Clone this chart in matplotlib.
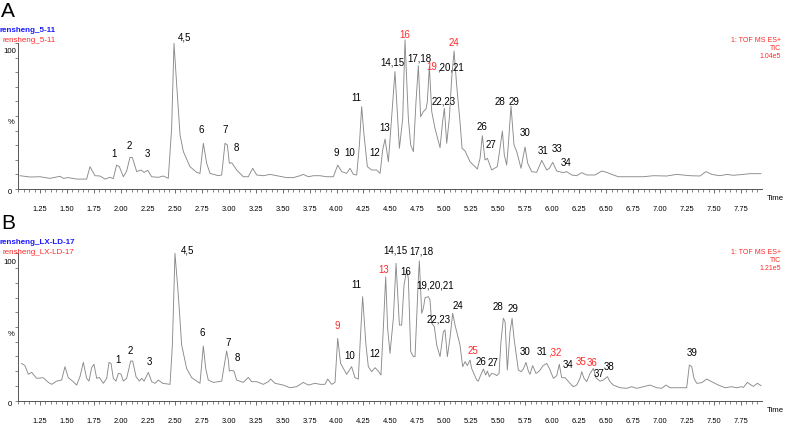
import matplotlib
matplotlib.use("Agg")
import matplotlib.pyplot as plt
from matplotlib.ticker import MultipleLocator

plt.rcParams['font.family'] = ['Liberation Sans', 'DejaVu Sans']

# ---- chromatogram A (rensheng_5-11), time in min, intensity in %
time_a = [1.065, 1.158, 1.250, 1.343, 1.436, 1.467, 1.513, 1.590, 1.683, 1.714, 1.760, 1.807,
          1.853, 1.900, 1.930, 1.961, 1.986, 2.023, 2.054, 2.085, 2.107, 2.147, 2.187, 2.215,
          2.249, 2.286, 2.348, 2.394, 2.440, 2.471, 2.493, 2.518, 2.549, 2.580, 2.641, 2.703,
          2.734, 2.765, 2.796, 2.827, 2.904, 2.935, 2.966, 2.988, 3.006, 3.028, 3.074, 3.136,
          3.182, 3.223, 3.260, 3.321, 3.383, 3.445, 3.538, 3.600, 3.661, 3.692, 3.739, 3.785,
          3.847, 3.909, 3.971, 4.011, 4.048, 4.094, 4.125, 4.156, 4.187, 4.212, 4.233, 4.255,
          4.286, 4.326, 4.372, 4.404, 4.428, 4.450, 4.481, 4.542, 4.583, 4.614, 4.635, 4.666,
          4.688, 4.713, 4.737, 4.759, 4.780, 4.805, 4.830, 4.842, 4.861, 4.883, 4.913, 4.960,
          4.984, 5.000, 5.022, 5.046, 5.068, 5.090, 5.114, 5.145, 5.164, 5.192, 5.238, 5.306,
          5.331, 5.352, 5.377, 5.399, 5.439, 5.491, 5.516, 5.538, 5.556, 5.578, 5.593, 5.618,
          5.646, 5.671, 5.711, 5.748, 5.773, 5.810, 5.856, 5.903, 5.949, 5.974, 6.005, 6.042,
          6.103, 6.134, 6.181, 6.227, 6.273, 6.320, 6.397, 6.459, 6.505, 6.552, 6.613, 6.722,
          6.845, 6.938, 7.062, 7.154, 7.278, 7.371, 7.426, 7.479, 7.556, 7.618, 7.680, 7.773,
          7.835, 7.936]
int_a = [9.1, 8.2, 8.4, 7.3, 8.7, 7.3, 7.8, 6.8, 6.8, 15.3, 9.1, 8.9,
         6.8, 8.0, 7.1, 16.4, 15.3, 8.4, 12.3, 21.7, 21.5, 11.9, 13.0, 11.4,
         12.8, 8.4, 8.0, 8.9, 7.3, 41.6, 99.8, 71.2, 37.0, 25.6, 15.3, 11.4,
         10.7, 31.3, 17.6, 10.7, 9.1, 9.6, 31.3, 30.1, 17.6, 18.0, 13.0, 8.4,
         8.4, 14.2, 9.6, 9.1, 10.0, 9.1, 7.8, 7.8, 9.1, 10.0, 8.4, 9.1,
         9.1, 8.4, 8.4, 16.4, 11.9, 10.7, 14.2, 10.0, 9.6, 30.1, 56.4, 37.0,
         15.3, 13.0, 13.0, 10.7, 26.7, 34.2, 18.7, 80.4, 27.9, 48.4, 102.1, 48.4,
         30.1, 25.6, 59.8, 84.5, 49.5, 53.0, 54.8, 59.8, 83.8, 53.0, 41.6, 28.3,
         46.1, 55.3, 31.3, 48.4, 75.8, 94.5, 71.2, 46.1, 27.9, 26.0, 18.7, 13.7,
         21.0, 36.5, 19.9, 21.0, 13.0, 15.3, 27.9, 39.7, 23.3, 16.4, 30.1, 56.8,
         30.1, 25.6, 14.2, 28.8, 17.6, 11.9, 11.4, 19.6, 13.0, 14.2, 18.3, 12.3,
         11.2, 11.9, 9.6, 9.1, 11.2, 9.6, 9.6, 12.3, 11.4, 10.0, 8.4, 8.4,
         8.4, 9.1, 8.9, 10.0, 9.1, 8.9, 11.9, 10.0, 9.1, 10.0, 9.4, 10.0,
         10.5, 10.5]

# ---- chromatogram B (rensheng_LX-LD-17)
time_b = [1.080, 1.111, 1.142, 1.173, 1.219, 1.281, 1.328, 1.359, 1.405, 1.451, 1.482, 1.513,
          1.559, 1.590, 1.621, 1.652, 1.683, 1.705, 1.729, 1.751, 1.776, 1.801, 1.838, 1.869,
          1.890, 1.909, 1.930, 1.955, 1.977, 2.001, 2.023, 2.054, 2.091, 2.110, 2.141, 2.172,
          2.193, 2.215, 2.255, 2.286, 2.317, 2.348, 2.388, 2.456, 2.478, 2.502, 2.533, 2.564,
          2.610, 2.657, 2.703, 2.734, 2.765, 2.787, 2.811, 2.858, 2.904, 2.935, 2.981, 2.997,
          3.006, 3.028, 3.049, 3.074, 3.136, 3.182, 3.213, 3.260, 3.321, 3.368, 3.389, 3.430,
          3.507, 3.569, 3.630, 3.692, 3.739, 3.801, 3.847, 3.893, 3.918, 3.955, 3.986, 4.011,
          4.038, 4.094, 4.140, 4.171, 4.202, 4.218, 4.242, 4.273, 4.295, 4.326, 4.357, 4.388,
          4.412, 4.434, 4.456, 4.474, 4.496, 4.527, 4.552, 4.583, 4.604, 4.626, 4.651, 4.666,
          4.688, 4.713, 4.728, 4.759, 4.768, 4.790, 4.805, 4.821, 4.852, 4.867, 4.883, 4.907,
          4.929, 4.960, 4.991, 5.006, 5.028, 5.052, 5.077, 5.099, 5.130, 5.145, 5.170, 5.192,
          5.213, 5.238, 5.253, 5.300, 5.315, 5.331, 5.362, 5.383, 5.399, 5.417, 5.439, 5.470,
          5.485, 5.507, 5.525, 5.547, 5.563, 5.584, 5.609, 5.628, 5.646, 5.665, 5.686, 5.711,
          5.733, 5.757, 5.779, 5.794, 5.819, 5.850, 5.881, 5.912, 5.949, 5.974, 6.011, 6.042,
          6.066, 6.088, 6.119, 6.165, 6.196, 6.227, 6.258, 6.274, 6.295, 6.320, 6.351, 6.382,
          6.406, 6.443, 6.474, 6.512, 6.536, 6.567, 6.629, 6.691, 6.737, 6.784, 6.845, 6.907,
          6.969, 7.015, 7.056, 7.093, 7.185, 7.247, 7.272, 7.294, 7.315, 7.340, 7.386, 7.433,
          7.479, 7.541, 7.603, 7.664, 7.711, 7.757, 7.773, 7.810, 7.835, 7.865, 7.903, 7.937]
int_b = [25.3, 23.8, 17.9, 19.2, 15.2, 15.6, 12.4, 11.1, 13.3, 14.0, 23.1, 15.6,
         12.9, 10.6, 16.3, 26.0, 15.2, 13.3, 22.4, 24.7, 15.2, 15.8, 11.8, 15.2,
         26.0, 25.3, 15.2, 13.3, 18.5, 18.1, 13.3, 15.2, 26.9, 26.9, 16.3, 13.3,
         15.2, 13.3, 19.2, 12.9, 11.8, 14.0, 11.8, 11.1, 37.8, 100.0, 71.7, 37.8,
         21.9, 15.6, 13.3, 11.8, 37.1, 21.9, 14.0, 12.4, 12.9, 13.3, 33.7, 27.6,
         20.1, 20.6, 20.1, 14.0, 12.4, 15.8, 12.9, 12.9, 11.1, 12.9, 14.7, 11.8,
         10.6, 8.8, 9.5, 12.4, 10.6, 11.8, 11.1, 11.1, 14.7, 11.1, 12.4, 42.3,
         25.3, 17.9, 23.1, 15.6, 14.7, 37.8, 70.6, 37.8, 23.1, 19.7, 22.4, 20.1,
         17.4, 49.1, 84.1, 49.1, 32.1, 55.9, 93.2, 51.3, 51.3, 78.5, 88.7, 83.0,
         33.3, 29.9, 29.9, 83.0, 94.8, 59.3, 62.7, 69.9, 70.6, 68.3, 52.5, 50.2,
         37.8, 29.9, 46.8, 48.0, 29.9, 42.3, 59.3, 51.3, 42.3, 37.8, 23.1, 26.5,
         23.8, 27.6, 21.9, 14.0, 13.3, 16.3, 21.5, 17.4, 20.1, 16.3, 18.5, 17.9,
         17.0, 18.5, 40.0, 55.9, 53.6, 20.8, 46.8, 55.9, 42.3, 32.1, 20.8, 19.7,
         21.5, 26.0, 20.1, 17.9, 23.8, 18.5, 20.1, 23.5, 25.3, 21.9, 15.2, 17.0,
         24.7, 15.6, 15.6, 11.8, 9.5, 10.6, 15.2, 19.7, 15.2, 12.9, 18.5, 21.9,
         15.6, 13.3, 14.0, 16.3, 12.9, 10.6, 8.8, 8.4, 9.5, 8.4, 9.5, 10.6,
         8.8, 8.4, 10.6, 8.8, 8.8, 8.8, 24.2, 23.1, 15.2, 11.8, 12.2, 14.7,
         12.9, 10.6, 8.8, 9.5, 8.8, 9.5, 9.0, 12.4, 11.1, 9.7, 11.8, 10.2]

# ---- peak labels
lab_a = ["1", "2", "3", "4,5", "6", "7", "8", "9", "10", "11", "12", "13", "14,15", "16",
         "17,18", "22,23", "24", "26", "27", "28", "29", "30", "31", "33", "34"]
lab_a_t = [1.937, 2.079, 2.246, 2.586, 2.743, 2.966, 3.074, 3.995, 4.119, 4.187, 4.357, 4.444,
           4.521, 4.635, 4.765, 4.997, 5.092, 5.352, 5.432, 5.516, 5.649, 5.748, 5.918, 6.042, 6.128]
lab_a_y = [23.7, 29.5, 23.7, 104.0, 40.4, 40.4, 27.9, 24.4, 24.4, 62.6, 24.4, 41.6,
           86.8, 105.5, 89.5, 59.8, 100.2, 42.7, 30.1, 59.4, 59.4, 38.1, 26.3, 27.2, 18.0]
red_a = ["16", "24"]
split_a = [("19", ",20,21", 4.935, 83.4, True, False)]

lab_b = ["1", "2", "3", "4,5", "6", "7", "8", "9", "10", "11", "12", "13", "14,15", "16",
         "17,18", "19,20,21", "22,23", "24", "25", "26", "27", "28", "29", "30", "34", "35",
         "36", "37", "38", "39"]
lab_b_t = [1.977, 2.091, 2.261, 2.620, 2.759, 2.997, 3.080, 4.011, 4.125, 4.187, 4.357, 4.440,
           4.542, 4.641, 4.790, 4.913, 4.944, 5.124, 5.268, 5.340, 5.454, 5.500, 5.639, 5.748,
           6.144, 6.264, 6.372, 6.434, 6.524, 7.293]
lab_b_y = [27.6, 33.9, 26.0, 102.2, 45.7, 38.9, 28.8, 50.9, 30.5, 78.5, 31.5, 88.7,
           101.8, 87.5, 101.1, 78.0, 55.4, 64.2, 33.7, 26.0, 25.8, 63.4, 62.2, 32.8,
           24.2, 26.5, 25.4, 17.9, 22.7, 32.2]
red_b = ["9", "13", "25", "35", "36"]
split_b = [("31", ",32", 5.958, 32.8, False, True)]

RED = "#ff2a2a"
BLUE = "#1a1aff"
GRAY = "#8a8a8a"
W, H = 787, 424
LABEL_FS = 7

fig = plt.figure(figsize=(W / 100, H / 100), dpi=100)


def fx(x):
    return x / W


def fy(y):
    return 1 - y / H


def panel(ax, t, v, labels, lt, ly, reds, splits):
    ax.plot(t, v, color=GRAY, lw=0.65, clip_on=False)
    ax.set_xlim(1.0464, 7.9455)
    ax.set_ylim(0, 100)
    for s in ["top", "right"]:
        ax.spines[s].set_visible(False)
    for s in ["left", "bottom"]:
        ax.spines[s].set_color("#555555")
        ax.spines[s].set_linewidth(0.7)
    ax.xaxis.set_minor_locator(MultipleLocator(0.05))
    ax.yaxis.set_major_locator(MultipleLocator(10))
    ax.set_yticklabels([])
    ax.tick_params(axis="x", which="major", length=3, width=0.6, color="#555555",
                   labelsize=5.4, pad=9.5)
    ax.tick_params(axis="x", which="minor", length=2, width=0.5, color="#555555")
    ax.tick_params(axis="y", length=2, width=0.5, color="#555555")
    ax.set_xticks([1.25 + 0.25 * i for i in range(27)])
    ax.set_xticklabels(["%.2f" % (1.25 + 0.25 * i) for i in range(27)])
    ax.patch.set_alpha(0)
    for txt, x, y in zip(labels, lt, ly):
        c = RED if txt in reds else "black"
        ax.text(x, y, txt, color=c, fontsize=LABEL_FS, ha="center", va="center", clip_on=False)
    for a, b, x, y, ra, rb in splits:
        ax.text(x, y, a, color=RED if ra else "black", fontsize=LABEL_FS, ha="right", va="center")
        ax.text(x, y, b, color=RED if rb else "black", fontsize=LABEL_FS, ha="left", va="center")
    ax.text(-0.003, 94, "100", transform=ax.get_yaxis_transform(), ha="right", va="center",
            fontsize=5.6)
    ax.text(-0.008, 0, "0", transform=ax.get_yaxis_transform(), ha="right", va="top",
            fontsize=5.6)


axA = fig.add_axes([fx(18), fy(189), fx(744), 146 / H])
axB = fig.add_axes([fx(18), fy(400.7), fx(744), 147.4 / H])
panel(axA, time_a, int_a, lab_a, lab_a_t, lab_a_y, red_a, split_a)
panel(axB, time_b, int_b, lab_b, lab_b_t, lab_b_y, red_b, split_b)

# headers
heads = [("A", "rensheng_5-11", "1.04e5", 0), ("B", "rensheng_LX-LD-17", "1.21e5", 212)]
for letter, name, scale, dy in heads:
    fig.text(fx(1), fy(11.5 + dy), letter, fontsize=15, ha="left", va="center")
    fig.text(fx(0), fy(31 + dy), name, fontsize=5.8, color=BLUE, weight="bold",
             ha="left", va="center")
    fig.text(fx(2.5), fy(41 + dy), name, fontsize=5.8, color=RED, ha="left", va="center")
    fig.text(fx(781), fy(40.7 + dy), "1: TOF MS ES+", fontsize=5, color=RED,
             ha="right", va="center")
    fig.text(fx(781), fy(48.5 + dy), "TIC", fontsize=5, color=RED, ha="right", va="center")
    fig.text(fx(781), fy(56.3 + dy), scale, fontsize=5, color=RED, ha="right", va="center")
    fig.text(fx(11.5), fy(122 + dy), "%", fontsize=5.6, ha="center", va="center")
    fig.text(fx(775), fy(198 + dy), "Time", fontsize=5.6, ha="center", va="center")

fig.savefig("out.png", dpi=100)
